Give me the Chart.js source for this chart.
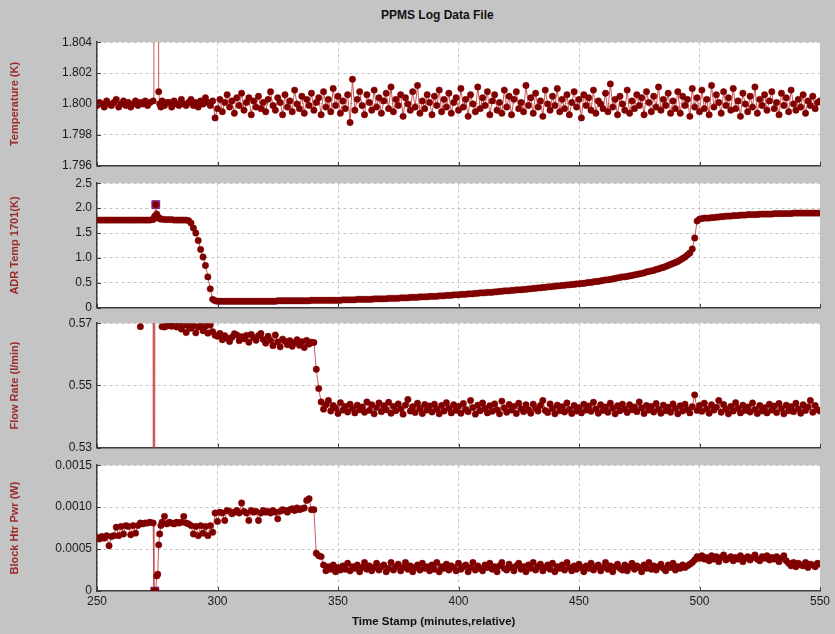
<!DOCTYPE html>
<html lang="en">
<head>
<meta charset="UTF-8">
<title>PPMS Log Data File</title>
<script src="https://cdn.jsdelivr.net/npm/chart.js"></script>
<style>
  body { margin: 0; background: #c4c4c4; }
  #figura { position: relative; width: 835px; height: 634px; background: #c4c4c4;
            font-family: "Liberation Sans", Arial, sans-serif; overflow: hidden; }
  #figura canvas { position: absolute; left: 0; }
  .titulo { position: absolute; font-weight: bold; color: #111; white-space: nowrap; }
</style>
</head>
<body>
<div id="figura">
  <div class="titulo" style="left:381px; top:8px; font-size:12px;">PPMS Log Data File</div>
  <canvas id="graficoTemp" width="835" height="148" style="top:30px"></canvas>
  <canvas id="graficoAdr" width="835" height="149" style="top:171px"></canvas>
  <canvas id="graficoFluxo" width="835" height="149" style="top:311px"></canvas>
  <canvas id="graficoPotencia" width="835" height="181" style="top:453px"></canvas>
  <div class="titulo" style="left:352px; top:615px; font-size:11.5px;">Time Stamp (minutes,relative)</div>
</div>

<script>
// tempo (min, relativo) - comum aos quatro paineis, uma linha por decada
const timeStamp = [
  250, 251, 252, 253, 254, 255, 256, 257, 258, 259,
  260, 261, 262, 263, 264, 265, 266, 267, 268, 269,
  270, 271, 272, 273.3, 273.6, 274.0, 274.4, 274.8, 275.2, 275.6, 276.0, 276.5, 277, 278, 279,
  280, 281, 282, 283, 284, 285, 286, 287, 288, 289,
  290, 291, 292, 293, 294, 295, 296, 297, 298, 299,
  300, 301, 302, 303, 304, 305, 306, 307, 308, 309,
  310, 311, 312, 313, 314, 315, 316, 317, 318, 319,
  320, 321, 322, 323, 324, 325, 326, 327, 328, 329,
  330, 331, 332, 333, 334, 335, 336, 337, 338, 339,
  340, 341, 342, 343, 344, 345, 346, 347, 348, 349,
  350, 351, 352, 353, 354, 355, 356, 357, 358, 359,
  360, 361, 362, 363, 364, 365, 366, 367, 368, 369,
  370, 371, 372, 373, 374, 375, 376, 377, 378, 379,
  380, 381, 382, 383, 384, 385, 386, 387, 388, 389,
  390, 391, 392, 393, 394, 395, 396, 397, 398, 399,
  400, 401, 402, 403, 404, 405, 406, 407, 408, 409,
  410, 411, 412, 413, 414, 415, 416, 417, 418, 419,
  420, 421, 422, 423, 424, 425, 426, 427, 428, 429,
  430, 431, 432, 433, 434, 435, 436, 437, 438, 439,
  440, 441, 442, 443, 444, 445, 446, 447, 448, 449,
  450, 451, 452, 453, 454, 455, 456, 457, 458, 459,
  460, 461, 462, 463, 464, 465, 466, 467, 468, 469,
  470, 471, 472, 473, 474, 475, 476, 477, 478, 479,
  480, 481, 482, 483, 484, 485, 486, 487, 488, 489,
  490, 491, 492, 493, 494, 495, 496, 497, 498, 499,
  500, 501, 502, 503, 504, 505, 506, 507, 508, 509,
  510, 511, 512, 513, 514, 515, 516, 517, 518, 519,
  520, 521, 522, 523, 524, 525, 526, 527, 528, 529,
  530, 531, 532, 533, 534, 535, 536, 537, 538, 539,
  540, 541, 542, 543, 544, 545, 546, 547, 548, 549,
  550
];

// Temperature (K)
const temperatura = [
  1.7999, 1.8001, 1.8000, 1.7998, 1.8002, 1.8000, 1.7999, 1.8001, 1.8003, 1.7998,
  1.8000, 1.8002, 1.7999, 1.8001, 1.7998, 1.8000, 1.8002, 1.7999, 1.8001, 1.8000,
  1.8002, 1.7999, 1.8001, 1.8002, 1.8500, 1.8500, 1.8500, 1.8500, 1.8500, 1.8008, 1.8000, 1.7998, 1.8002, 1.7999, 1.8001,
  1.8001, 1.7998, 1.8002, 1.8000, 1.7999, 1.8003, 1.8000, 1.7999, 1.8001, 1.8003,
  1.7999, 1.8001, 1.7998, 1.8002, 1.8000, 1.8004, 1.8001, 1.7999, 1.8002, 1.7991,
  1.7997, 1.8003, 1.7995, 1.8001, 1.8006, 1.7998, 1.8002, 1.7994, 1.8004, 1.7999,
  1.8007, 1.7996, 1.8001, 1.8004, 1.7993, 1.8002, 1.7998, 1.8005, 1.7997, 1.8001,
  1.7995, 1.8003, 1.8008, 1.7999, 1.7996, 1.8004, 1.8001, 1.7993, 1.8006, 1.7998,
  1.8002, 1.7995, 1.8009, 1.8000, 1.7997, 1.8005, 1.7994, 1.8003, 1.7999, 1.8007,
  1.7996, 1.8001, 1.8004, 1.7993, 1.8008, 1.7998, 1.8003, 1.7995, 1.8010, 1.7999,
  1.8005, 1.7994, 1.8002, 1.7997, 1.8006, 1.7988, 1.8016, 1.7996, 1.8003, 1.8008,
  1.7999, 1.7993, 1.8006, 1.8001, 1.7996, 1.8009, 1.7998, 1.8004, 1.7994, 1.8002,
  1.8007, 1.7997, 1.8011, 1.7995, 1.8003, 1.7999, 1.8006, 1.7992, 1.8004, 1.8000,
  1.7996, 1.8008, 1.7998, 1.8012, 1.7994, 1.8002, 1.7997, 1.8006, 1.8001, 1.7993,
  1.8005, 1.7999, 1.8009, 1.7995, 1.8003, 1.7998, 1.8007, 1.7994, 1.8001, 1.8004,
  1.7996, 1.8010, 1.7998, 1.8003, 1.7992, 1.8006, 1.8000, 1.7995, 1.8011, 1.7997,
  1.8004, 1.7999, 1.8008, 1.7993, 1.8002, 1.8006, 1.7996, 1.8001, 1.7994, 1.8009,
  1.7998, 1.8005, 1.7993, 1.8003, 1.8008, 1.7997, 1.8001, 1.7995, 1.8012, 1.7999,
  1.8004, 1.7994, 1.8007, 1.7998, 1.8002, 1.7992, 1.8009, 1.8000, 1.7996, 1.8005,
  1.7999, 1.8010, 1.7995, 1.8003, 1.7997, 1.8006, 1.7993, 1.8001, 1.8008, 1.7998,
  1.8003, 1.7991, 1.8006, 1.7999, 1.8004, 1.7996, 1.8009, 1.7994, 1.8002, 1.8000,
  1.7997, 1.8007, 1.7995, 1.8013, 1.7998, 1.8003, 1.7993, 1.8005, 1.8000, 1.7996,
  1.8009, 1.7994, 1.8002, 1.7997, 1.8006, 1.7999, 1.8004, 1.7993, 1.8008, 1.8001,
  1.7995, 1.8005, 1.7998, 1.8011, 1.7996, 1.8003, 1.7999, 1.8007, 1.7994, 1.8002,
  1.7997, 1.8008, 1.7994, 1.8005, 1.7999, 1.8003, 1.7992, 1.8010, 1.7998, 1.8004,
  1.7995, 1.8009, 1.7997, 1.8003, 1.7993, 1.8012, 1.7998, 1.8006, 1.8001, 1.7994,
  1.8008, 1.7999, 1.8004, 1.7996, 1.8010, 1.7997, 1.8002, 1.7992, 1.8007, 1.8000,
  1.7995, 1.8005, 1.7998, 1.8011, 1.7994, 1.8003, 1.7999, 1.8006, 1.7996, 1.8002,
  1.8008, 1.7997, 1.8001, 1.7993, 1.8007, 1.7999, 1.8004, 1.7995, 1.8009, 1.8000,
  1.7996, 1.8003, 1.7998, 1.8006, 1.7994, 1.8002, 1.7999, 1.8005, 1.7997, 1.8001,
  1.8002
];

// ADR Temp 1701 (K)
const adrTemp = [
  1.76, 1.76, 1.76, 1.76, 1.76, 1.76, 1.76, 1.76, 1.76, 1.76,
  1.76, 1.76, 1.76, 1.76, 1.76, 1.76, 1.76, 1.76, 1.76, 1.76,
  1.76, 1.76, 1.76, 1.77, 1.80, 1.84, 2.07, 1.88, 1.83, 1.80, 1.79, 1.78, 1.78, 1.77, 1.77,
  1.77, 1.77, 1.76, 1.76, 1.76, 1.76, 1.76, 1.76, 1.75, 1.70,
  1.60, 1.50, 1.35, 1.17, 1.02, 0.85, 0.62, 0.38, 0.17, 0.14,
  0.13, 0.13, 0.13, 0.13, 0.13, 0.13, 0.13, 0.13, 0.13, 0.13,
  0.13, 0.13, 0.13, 0.13, 0.13, 0.13, 0.13, 0.13, 0.13, 0.13,
  0.13, 0.13, 0.13, 0.13, 0.13, 0.14, 0.14, 0.14, 0.14, 0.14,
  0.14, 0.14, 0.14, 0.14, 0.14, 0.14, 0.14, 0.14, 0.14, 0.15,
  0.15, 0.15, 0.15, 0.15, 0.15, 0.15, 0.15, 0.15, 0.15, 0.15,
  0.15, 0.15, 0.16, 0.16, 0.16, 0.16, 0.16, 0.16, 0.17, 0.17,
  0.17, 0.17, 0.17, 0.17, 0.17, 0.18, 0.18, 0.18, 0.18, 0.18,
  0.18, 0.19, 0.19, 0.19, 0.19, 0.19, 0.20, 0.20, 0.20, 0.20,
  0.21, 0.21, 0.21, 0.21, 0.22, 0.22, 0.22, 0.22, 0.23, 0.23,
  0.23, 0.23, 0.24, 0.24, 0.24, 0.25, 0.25, 0.25, 0.26, 0.26,
  0.26, 0.27, 0.27, 0.27, 0.28, 0.28, 0.28, 0.29, 0.29, 0.30,
  0.30, 0.30, 0.31, 0.31, 0.31, 0.32, 0.32, 0.33, 0.33, 0.34,
  0.34, 0.34, 0.35, 0.35, 0.36, 0.36, 0.36, 0.37, 0.37, 0.38,
  0.38, 0.39, 0.39, 0.40, 0.40, 0.41, 0.41, 0.42, 0.42, 0.43,
  0.43, 0.44, 0.44, 0.45, 0.45, 0.46, 0.46, 0.47, 0.47, 0.48,
  0.48, 0.49, 0.49, 0.50, 0.51, 0.51, 0.52, 0.53, 0.53, 0.54,
  0.55, 0.56, 0.56, 0.57, 0.58, 0.59, 0.60, 0.61, 0.62, 0.62,
  0.63, 0.64, 0.65, 0.66, 0.67, 0.68, 0.69, 0.70, 0.72, 0.73,
  0.74, 0.75, 0.77, 0.78, 0.80, 0.81, 0.83, 0.85, 0.87, 0.89,
  0.91, 0.93, 0.96, 0.99, 1.02, 1.06, 1.10, 1.18, 1.40, 1.74,
  1.78, 1.79, 1.80, 1.80, 1.80, 1.81, 1.81, 1.82, 1.82, 1.83,
  1.83, 1.84, 1.84, 1.84, 1.85, 1.85, 1.85, 1.86, 1.86, 1.86,
  1.87, 1.87, 1.87, 1.87, 1.87, 1.88, 1.88, 1.88, 1.88, 1.88,
  1.88, 1.89, 1.89, 1.89, 1.89, 1.89, 1.89, 1.89, 1.89, 1.90,
  1.90, 1.90, 1.90, 1.90, 1.90, 1.90, 1.90, 1.90, 1.90, 1.90,
  1.90
];

// Flow Rate (l/min)
const fluxo = [
  0.5726, 0.5722, 0.5729, 0.5724, 0.5721, 0.5727, 0.5723, 0.5728, 0.5722, 0.5725,
  0.5724, 0.5726, 0.5721, 0.5728, 0.5723, 0.5725, 0.5727, 0.5722, 0.5689, 0.5724,
  0.5726, 0.5723, 0.5727, 0.5725, 0.0000, 0.5727, 0.5724, 0.5728, 0.5723, 0.5726, 0.5722, 0.5725, 0.5689, 0.5688, 0.5691,
  0.5695, 0.5690, 0.5697, 0.5688, 0.5692, 0.5681, 0.5694, 0.5670, 0.5690, 0.5684,
  0.5693, 0.5669, 0.5688, 0.5692, 0.5676, 0.5690, 0.5668, 0.5694, 0.5673, 0.5661,
  0.5658, 0.5667, 0.5647, 0.5660, 0.5652, 0.5641, 0.5655, 0.5666, 0.5662, 0.5644,
  0.5657, 0.5650, 0.5661, 0.5639, 0.5664, 0.5653, 0.5645, 0.5660, 0.5667, 0.5648,
  0.5636, 0.5658, 0.5645, 0.5628, 0.5662, 0.5640, 0.5624, 0.5649, 0.5642, 0.5631,
  0.5644, 0.5626, 0.5638, 0.5647, 0.5629, 0.5641, 0.5622, 0.5645, 0.5633, 0.5639,
  0.5638, 0.5552, 0.5490, 0.5447, 0.5424, 0.5438, 0.5452, 0.5418, 0.5436, 0.5428,
  0.5410, 0.5445, 0.5421, 0.5433, 0.5415, 0.5440, 0.5426, 0.5412, 0.5437, 0.5422,
  0.5431, 0.5414, 0.5447, 0.5420, 0.5438, 0.5409, 0.5429, 0.5444, 0.5416, 0.5435,
  0.5422, 0.5446, 0.5411, 0.5433, 0.5419, 0.5441, 0.5425, 0.5408, 0.5437, 0.5455,
  0.5418, 0.5432, 0.5413, 0.5443, 0.5426, 0.5410, 0.5439, 0.5421, 0.5434, 0.5415,
  0.5440, 0.5424, 0.5409, 0.5436, 0.5418, 0.5445, 0.5427, 0.5412, 0.5438, 0.5420,
  0.5433, 0.5411, 0.5442, 0.5423, 0.5416, 0.5452, 0.5429, 0.5408, 0.5437, 0.5419,
  0.5444, 0.5426, 0.5412, 0.5435, 0.5417, 0.5441, 0.5422, 0.5409, 0.5450, 0.5428,
  0.5414, 0.5439, 0.5421, 0.5433, 0.5410, 0.5443, 0.5425, 0.5416, 0.5438, 0.5422,
  0.5411, 0.5440, 0.5427, 0.5418, 0.5436, 0.5452, 0.5420, 0.5413, 0.5441, 0.5426,
  0.5409, 0.5437, 0.5419, 0.5432, 0.5415, 0.5444, 0.5423, 0.5410, 0.5436, 0.5418,
  0.5429, 0.5412, 0.5440, 0.5421, 0.5434, 0.5417, 0.5446, 0.5425, 0.5411, 0.5438,
  0.5420, 0.5431, 0.5414, 0.5443, 0.5427, 0.5409, 0.5435, 0.5419, 0.5440, 0.5424,
  0.5413, 0.5438, 0.5422, 0.5431, 0.5416, 0.5447, 0.5428, 0.5410, 0.5436, 0.5421,
  0.5433, 0.5415, 0.5442, 0.5424, 0.5411, 0.5437, 0.5419, 0.5430, 0.5414, 0.5441,
  0.5426, 0.5409, 0.5435, 0.5418, 0.5440, 0.5423, 0.5412, 0.5432, 0.5470, 0.5420,
  0.5436, 0.5417, 0.5443, 0.5425, 0.5411, 0.5438, 0.5421, 0.5430, 0.5452, 0.5414,
  0.5439, 0.5424, 0.5409, 0.5433, 0.5418, 0.5445, 0.5427, 0.5412, 0.5437, 0.5420,
  0.5431, 0.5415, 0.5444, 0.5423, 0.5410, 0.5436, 0.5418, 0.5429, 0.5412, 0.5440,
  0.5421, 0.5434, 0.5413, 0.5442, 0.5426, 0.5409, 0.5437, 0.5419, 0.5432, 0.5416,
  0.5443, 0.5425, 0.5411, 0.5438, 0.5420, 0.5431, 0.5452, 0.5414, 0.5436, 0.5422,
  0.5418
];

// Block Htr Pwr (W)
const potencia = [
  0.00064, 0.00062, 0.00065, 0.00063, 0.00066, 0.00054, 0.00065, 0.00066, 0.00076, 0.00066,
  0.00077, 0.00068, 0.00078, 0.00077, 0.00067, 0.00078, 0.00069, 0.00078, 0.00081, 0.00080,
  0.00081, 0.00081, 0.00082, 0.00081, 0.00000, 0.00000, 0.00000, 0.00018, 0.00020, 0.00055, 0.00068, 0.00078, 0.00082, 0.00089, 0.00080,
  0.00082, 0.00081, 0.00080, 0.00082, 0.00081, 0.00082, 0.00089, 0.00081, 0.00080, 0.00078,
  0.00068, 0.00077, 0.00066, 0.00078, 0.00069, 0.00077, 0.00066, 0.00078, 0.00070, 0.00093,
  0.00083, 0.00094, 0.00093, 0.00084, 0.00096, 0.00095, 0.00092, 0.00094, 0.00096, 0.00093,
  0.00105, 0.00095, 0.00093, 0.00084, 0.00096, 0.00094, 0.00095, 0.00084, 0.00093, 0.00096,
  0.00094, 0.00095, 0.00093, 0.00096, 0.00094, 0.00086, 0.00095, 0.00097, 0.00096, 0.00094,
  0.00097, 0.00098, 0.00096, 0.00099, 0.00097, 0.00098, 0.00099, 0.00108, 0.00110, 0.00097,
  0.00097, 0.00045, 0.00042, 0.00041, 0.00031, 0.00024, 0.00029, 0.00026, 0.00031, 0.00023,
  0.00028, 0.00025, 0.00030, 0.00026, 0.00033, 0.00024, 0.00029, 0.00027, 0.00031, 0.00023,
  0.00028, 0.00034, 0.00026, 0.00030, 0.00024, 0.00028, 0.00033, 0.00025, 0.00029, 0.00031,
  0.00023, 0.00027, 0.00034, 0.00025, 0.00029, 0.00032, 0.00024, 0.00028, 0.00034, 0.00026,
  0.00030, 0.00023, 0.00028, 0.00031, 0.00025, 0.00033, 0.00027, 0.00029, 0.00024, 0.00031,
  0.00026, 0.00034, 0.00023, 0.00029, 0.00027, 0.00032, 0.00025, 0.00030, 0.00028, 0.00024,
  0.00033, 0.00026, 0.00029, 0.00031, 0.00023, 0.00028, 0.00034, 0.00025, 0.00030, 0.00027,
  0.00024, 0.00031, 0.00028, 0.00033, 0.00026, 0.00029, 0.00023, 0.00030, 0.00034, 0.00027,
  0.00025, 0.00032, 0.00028, 0.00024, 0.00030, 0.00033, 0.00026, 0.00029, 0.00023, 0.00031,
  0.00027, 0.00034, 0.00025, 0.00029, 0.00032, 0.00024, 0.00028, 0.00031, 0.00026, 0.00033,
  0.00023, 0.00029, 0.00027, 0.00031, 0.00025, 0.00034, 0.00028, 0.00024, 0.00030, 0.00026,
  0.00032, 0.00028, 0.00023, 0.00030, 0.00027, 0.00033, 0.00025, 0.00029, 0.00031, 0.00024,
  0.00028, 0.00034, 0.00026, 0.00030, 0.00023, 0.00029, 0.00032, 0.00027, 0.00025, 0.00031,
  0.00024, 0.00029, 0.00033, 0.00026, 0.00030, 0.00028, 0.00023, 0.00031, 0.00027, 0.00034,
  0.00026, 0.00030, 0.00025, 0.00029, 0.00032, 0.00027, 0.00024, 0.00031, 0.00028, 0.00033,
  0.00025, 0.00029, 0.00027, 0.00031, 0.00028, 0.00030, 0.00032, 0.00034, 0.00037, 0.00041,
  0.00039, 0.00042, 0.00038, 0.00040, 0.00036, 0.00042, 0.00038, 0.00041, 0.00035, 0.00040,
  0.00043, 0.00037, 0.00039, 0.00041, 0.00036, 0.00040, 0.00038, 0.00042, 0.00035, 0.00039,
  0.00041, 0.00037, 0.00040, 0.00043, 0.00038, 0.00036, 0.00041, 0.00039, 0.00042, 0.00037,
  0.00040, 0.00038, 0.00041, 0.00035, 0.00039, 0.00042, 0.00036, 0.00033, 0.00030, 0.00034,
  0.00029, 0.00033, 0.00031, 0.00030, 0.00034, 0.00028, 0.00032, 0.00031, 0.00029, 0.00033,
  0.00032
];

// pontos selecionados (quadrado roxo)
const adrMarcaTempo = [274.4];
const adrMarcaValor = [2.07];
const potMarcaTempo = [274.0];
const potMarcaValor = [0];

// ticks dos eixos
const tempTicks = [1.796, 1.798, 1.800, 1.802, 1.804];
const tempTickLabels = ['1.796', '1.798', '1.800', '1.802', '1.804'];
const adrTicks = [0, 0.5, 1.0, 1.5, 2.0, 2.5];
const adrTickLabels = ['0', '0.5', '1.0', '1.5', '2.0', '2.5'];
const fluxoTicks = [0.53, 0.55, 0.57];
const fluxoTickLabels = ['0.53', '0.55', '0.57'];
const potTicks = [0, 0.0005, 0.0010, 0.0015];
const potTickLabels = ['0', '0.0005', '0.0010', '0.0015'];
const tempoTicks = [250, 300, 350, 400, 450, 500, 550];
const tempoTickLabels = ['250', '300', '350', '400', '450', '500', '550'];

const corPonto = '#800000';
const corLinha = 'rgba(200, 70, 70, 0.9)';
const corTituloY = '#9b2a2a';
const fonte = '"Liberation Sans", Arial, sans-serif';

// fundo branco so na area do grafico
const fundoBranco = {
  id: 'fundoBranco',
  beforeDraw(chart) {
    const { ctx, chartArea } = chart;
    ctx.save();
    ctx.fillStyle = '#ffffff';
    ctx.fillRect(chartArea.left, chartArea.top, chartArea.right - chartArea.left, chartArea.bottom - chartArea.top);
    ctx.restore();
  }
};

// marquinhas dos ticks para dentro do grafico
const marcasEixo = {
  id: 'marcasEixo',
  afterDraw(chart) {
    const { ctx, chartArea, scales } = chart;
    ctx.save();
    ctx.strokeStyle = '#3c3c3c';
    ctx.lineWidth = 1;
    ctx.beginPath();
    scales.y.ticks.forEach(t => {
      const y = Math.round(scales.y.getPixelForValue(t.value)) + 0.5;
      ctx.moveTo(chartArea.left, y);
      ctx.lineTo(chartArea.left + 4, y);
    });
    scales.x.ticks.forEach(t => {
      const x = Math.round(scales.x.getPixelForValue(t.value)) + 0.5;
      ctx.moveTo(x, chartArea.bottom);
      ctx.lineTo(x, chartArea.bottom - 4);
    });
    ctx.stroke();
    ctx.restore();
  }
};

function criarGrafico(idCanvas, valores, tituloY, ticksY, labelsY, marca, ultimo) {
  if (valores.length !== timeStamp.length) {
    throw new Error(idCanvas + ': ' + valores.length + ' valores para ' + timeStamp.length + ' tempos');
  }

  let datasets = [{
    data: timeStamp.map((t, i) => ({ x: t, y: valores[i] })),
    borderColor: corLinha,
    borderWidth: 1,
    pointRadius: 3.2,
    pointBackgroundColor: corPonto,
    pointBorderColor: corPonto,
    pointBorderWidth: 0.5,
    tension: 0,
    order: 1
  }];

  if (marca) {
    datasets.push({
      data: marca.tempo.map((t, i) => ({ x: t, y: marca.valor[i] })),
      showLine: false,
      pointStyle: 'rect',
      pointRadius: 5.5,
      pointBackgroundColor: '#9c35b0',
      pointBorderColor: '#6e1f80',
      pointBorderWidth: 1,
      order: 2
    });
  }

  const config = {
    type: 'line',
    data: { datasets: datasets },
    options: {
      responsive: false,
      animation: false,
      events: [],
      layout: { padding: { left: 0, right: 15, top: 12, bottom: ultimo ? 23 : 12 } },
      plugins: { legend: { display: false }, tooltip: { enabled: false } },
      scales: {
        x: {
          type: 'linear',
          min: tempoTicks[0],
          max: tempoTicks[tempoTicks.length - 1],
          afterBuildTicks: s => { s.ticks = tempoTicks.map(v => ({ value: v })); },
          afterFit: s => { s.height = ultimo ? 20 : 0; },
          grid: {
            drawTicks: false,
            color: c => (c.tick && c.tick.value === 550) ? 'rgba(0,0,0,0)' : '#c6c6c6'
          },
          border: { display: true, color: '#3c3c3c', width: 1.5, dash: [3, 3] },
          ticks: {
            display: ultimo,
            padding: 3,
            color: '#1a1a1a',
            font: { family: fonte, size: 12 },
            callback: (v, i) => tempoTickLabels[i]
          }
        },
        y: {
          min: ticksY[0],
          max: ticksY[ticksY.length - 1],
          afterBuildTicks: s => { s.ticks = ticksY.map(v => ({ value: v })); },
          afterFit: s => { s.width = 97; },
          grid: { drawTicks: false, color: '#c6c6c6' },
          border: { display: true, color: '#3c3c3c', width: 1.5, dash: [3, 3] },
          ticks: {
            padding: 5,
            color: '#1a1a1a',
            font: { family: fonte, size: 12 },
            callback: (v, i) => labelsY[i]
          },
          title: {
            display: true,
            text: tituloY,
            color: corTituloY,
            padding: { top: 8, bottom: 0 },
            font: { family: fonte, size: 11, weight: 'bold' }
          }
        }
      }
    },
    plugins: [fundoBranco, marcasEixo]
  };

  return new Chart(document.getElementById(idCanvas), config);
}

criarGrafico('graficoTemp', temperatura, 'Temperature (K)', tempTicks, tempTickLabels, null, false);
criarGrafico('graficoAdr', adrTemp, 'ADR Temp 1701(K)', adrTicks, adrTickLabels,
  { tempo: adrMarcaTempo, valor: adrMarcaValor }, false);
criarGrafico('graficoFluxo', fluxo, 'Flow Rate (l/min)', fluxoTicks, fluxoTickLabels, null, false);
criarGrafico('graficoPotencia', potencia, 'Block Htr Pwr (W)', potTicks, potTickLabels,
  { tempo: potMarcaTempo, valor: potMarcaValor }, true);
</script>
</body>
</html>
